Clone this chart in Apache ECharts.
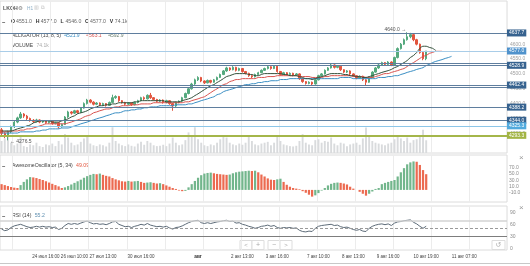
<!DOCTYPE html>
<html>
<head>
<meta charset="utf-8">
<script src="https://cdn.jsdelivr.net/npm/echarts@6/dist/echarts.min.js"></script>
<style>
html, body { margin: 0; padding: 0; background: #fff; }
#main { width: 530px; height: 266px; }
</style>
</head>
<body>
<div id="main"></div>
<script>
// LKOH H1 candles (open, close, low, high)
var opens = [4312,4300,4292,4305,4322,4338,4352,4365,4358,4350,4344,4340,4345,4338,4342,4336,4340,4333,4336,4322,
  4330,4355,4372,4368,4376,4370,4385,4400,4412,4405,4398,4402,4396,4400,4394,4404,4420,4424,4410,4404,
  4398,4402,4396,4404,4410,4420,4416,4428,4420,4414,4408,4412,4404,4410,4400,4392,4404,4408,4420,4434,
  4450,4466,4480,4488,4476,4470,4478,4472,4480,4488,4498,4510,4520,4514,4522,4512,4518,4508,4502,4494,
  4490,4498,4504,4512,4518,4524,4518,4526,4508,4498,4504,4498,4502,4496,4500,4484,4474,4468,4472,4466,
  4480,4494,4500,4512,4520,4530,4522,4526,4514,4506,4510,4500,4494,4486,4492,4480,4472,4488,4506,4520,
  4530,4538,4532,4540,4530,4555,4585,4600,4615,4625,4632,4615,4600,4572,4551];
var closes = [4300,4292,4305,4322,4338,4352,4365,4358,4350,4344,4340,4345,4338,4342,4336,4340,4333,4336,4322,4330,
  4355,4372,4368,4376,4370,4385,4400,4412,4405,4398,4402,4396,4400,4394,4404,4420,4424,4410,4404,4398,
  4402,4396,4404,4410,4420,4416,4428,4420,4414,4408,4412,4404,4410,4400,4392,4404,4408,4420,4434,4450,
  4466,4480,4488,4476,4470,4478,4472,4480,4488,4498,4510,4520,4514,4522,4512,4518,4508,4502,4494,4490,
  4498,4504,4512,4518,4524,4518,4526,4508,4498,4504,4498,4502,4496,4500,4484,4474,4468,4472,4466,4480,
  4494,4500,4512,4520,4530,4522,4526,4514,4506,4510,4500,4494,4486,4492,4480,4472,4488,4506,4520,4530,
  4538,4532,4540,4530,4555,4585,4600,4615,4625,4632,4615,4600,4572,4551,4577];
var lows = [4294,4284,4276.5,4301,4318,4334,4349,4352,4345,4339,4335,4337,4334,4335,4332,4333,4329,4330,4316,4319,
  4328,4352,4363,4365,4366,4368,4383,4397,4401,4394,4395,4392,4393,4390,4392,4402,4416,4406,4400,4394,
  4395,4392,4394,4401,4408,4412,4414,4416,4410,4404,4405,4400,4401,4396,4376,4389,4401,4405,4418,4431,
  4447,4463,4476,4472,4466,4468,4468,4470,4478,4486,4496,4507,4510,4512,4508,4509,4504,4498,4490,4486,
  4488,4496,4502,4510,4515,4514,4516,4504,4494,4496,4494,4495,4492,4493,4480,4470,4464,4465,4462,4464,
  4478,4491,4498,4510,4518,4518,4519,4510,4502,4503,4496,4490,4482,4484,4476,4462,4470,4486,4504,4517,
  4527,4528,4530,4526,4528,4552,4582,4597,4612,4620,4610,4596,4568,4546,4546];
var highs = [4318,4304,4309,4326,4342,4356,4372,4368,4362,4353,4348,4349,4347,4345,4344,4343,4342,4339,4338,4333,
  4358,4376,4375,4379,4379,4388,4404,4416,4415,4408,4405,4404,4403,4402,4407,4430,4428,4426,4412,4406,
  4405,4404,4407,4413,4423,4424,4431,4436,4422,4416,4415,4414,4413,4412,4402,4407,4411,4423,4437,4453,
  4470,4484,4492,4490,4478,4481,4480,4483,4491,4501,4513,4524,4522,4526,4524,4521,4520,4510,4504,4496,
  4501,4507,4515,4521,4527,4526,4529,4528,4510,4507,4506,4505,4504,4503,4502,4486,4476,4475,4474,4483,
  4497,4503,4515,4523,4534,4532,4529,4528,4516,4513,4512,4502,4496,4495,4494,4482,4491,4509,4523,4533,
  4541,4540,4543,4542,4558,4589,4604,4619,4640,4638,4635,4618,4602,4575,4577];
// volume, thousands
var volumes = [70,85,120,60,45,55,95,40,35,50,45,60,40,35,50,45,55,40,70,50,
  110,90,60,45,50,65,85,95,55,45,40,50,45,38,60,150,70,55,45,40,
  50,42,38,55,65,48,70,60,45,40,42,48,40,55,90,60,45,50,75,120,
  100,150,80,60,45,40,50,45,60,80,95,90,60,50,45,55,48,60,95,70,
  50,45,55,60,65,45,60,95,70,50,45,40,38,42,70,110,60,50,45,75,
  80,60,70,65,90,55,45,60,55,40,50,55,60,48,85,148,95,70,60,55,
  50,45,55,60,80,105,85,70,90,60,75,80,100,136,74.1];
// Awesome Oscillator (5, 34)
var aoValues = [18,15,12,9,7,6,15,25,33,40,39,37,34,31,27,23,19,15,11,6,
  8,12,17,22,27,32,38,43,47,50,49,51,47,44,42,37,33,30,27,26,
  28,26,27,28,25,22,23,24,22,20,21,18,14,10,6,3,-2,-4,-3,8,
  18,28,38,46,51,53,54,52,50,49,48,47,48,52,55,57,58,59,60,59,
  60,55,48,42,36,32,31,33,35,25,16,10,6,4,2,-4,-9,-15,-21,-17,
  -10,-2,6,14,19,22,23,22,20,17,10,4,0,-6,-12,-18,-12,-5,3,6,
  18,22,25,28,31,42,55,68,80,86,89,88,78,62,49.09];
// RSI (14)
var rsiValues = [48,44,46,52,56,58,60,57,54,52,53,55,53,55,53,54,52,53,47,50,
  57,62,60,62,60,63,66,68,64,61,62,60,61,59,62,66,67,60,57,54,
  55,52,55,57,60,58,62,58,56,54,55,53,55,51,48,52,53,56,60,64,
  67,69,70,64,62,64,62,64,66,67,69,70,67,68,63,64,60,58,55,53,
  50,52,55,56,58,55,57,52,50,52,51,52,50,51,45,42,41,43,42,50,
  55,57,58,59,60,57,58,54,52,53,50,47,45,47,43,42,50,55,58,60,
  61,59,61,57,63,66,67,69,70,71,65,61,55,50,55.2];
// Alligator lines as drawn (already shifted: jaw +8, teeth +5, lips +3)
var jaw = [4301,4301,4301,4301,4301,4301,4305,4305,4305,4305,4305,4308,4308,4311,4311,4315,4315,4315,4315,4318,
  4318,4318,4321,4325,4328,4332,4335,4338,4342,4345,4349,4352,4355,4359,4362,4366,4369,4369,4372,4376,
  4376,4379,4379,4382,4382,4386,4386,4389,4389,4389,4393,4393,4393,4393,4393,4396,4396,4396,4396,4399,
  4399,4403,4406,4410,4413,4416,4420,4423,4430,4433,4440,4444,4447,4450,4454,4457,4460,4464,4464,4467,
  4467,4471,4471,4474,4474,4477,4477,4477,4481,4481,4481,4484,4484,4484,4484,4484,4484,4484,4484,4484,
  4484,4484,4484,4484,4484,4484,4484,4488,4488,4488,4488,4484,4484,4484,4484,4484,4484,4484,4484,4488,
  4488,4488,4491,4491,4494,4494,4498,4501,4505,4508,4511,4515,4518,4521,4528,4532,4538,4542,4545,4548,
  4552,4555,4559];
var teeth = [4305,4305,4305,4308,4308,4308,4311,4311,4315,4315,4318,4321,4325,4328,4332,4332,4332,4332,4332,4332,
  4332,4335,4338,4342,4345,4349,4355,4359,4362,4369,4372,4376,4379,4382,4382,4386,4389,4389,4393,4393,
  4393,4396,4396,4396,4399,4399,4399,4399,4403,4403,4403,4403,4403,4403,4403,4403,4403,4403,4406,4406,
  4410,4413,4416,4420,4423,4430,4437,4444,4450,4457,4464,4467,4474,4477,4481,4481,4484,4484,4484,4484,
  4484,4488,4488,4488,4491,4491,4491,4494,4494,4494,4494,4494,4494,4494,4491,4491,4491,4491,4488,4488,
  4488,4488,4491,4491,4494,4494,4494,4494,4494,4494,4494,4491,4491,4491,4491,4488,4488,4488,4491,4494,
  4498,4501,4501,4505,4508,4511,4515,4518,4525,4532,4538,4545,4552,4559,4562,4569,4572,4576,4576,4576];
var lips = [4308,4308,4308,4308,4311,4315,4318,4321,4325,4328,4335,4338,4342,4342,4342,4342,4338,4338,4338,4342,
  4345,4349,4355,4359,4366,4369,4372,4376,4382,4386,4389,4393,4393,4396,4396,4399,4399,4403,4403,4403,
  4403,4403,4406,4406,4410,4410,4410,4410,4410,4410,4410,4410,4406,4406,4406,4406,4406,4410,4413,4416,
  4420,4427,4433,4440,4447,4454,4460,4464,4471,4477,4484,4491,4494,4498,4501,4501,4501,4501,4498,4498,
  4494,4494,4498,4501,4501,4501,4501,4501,4501,4498,4498,4494,4494,4494,4491,4488,4484,4484,4481,4484,
  4488,4491,4494,4498,4501,4501,4501,4501,4498,4498,4494,4494,4491,4491,4488,4488,4491,4494,4498,4501,
  4505,4508,4511,4515,4521,4525,4532,4538,4545,4555,4562,4572,4586,4593,4593,4589,4586,4579];

var timeTickIdx = [14, 23, 32, 44, 62, 76, 87, 100, 111, 122, 134, 146];
var timeTickText = ['24 июл 16:00', '26 июл 10:00', '27 июл 13:00', '30 июл 16:00', 'авг', '2 авг 13:00',
  '3 авг 16:00', '7 авг 10:00', '8 авг 13:00', '9 авг 16:00', '10 авг 19:00', '11 авг 07:00'];
var priceTicks = [4300, 4350, 4400, 4450, 4500, 4550, 4600];
var aoTicks = [-10, 10, 30, 50, 70];
var rsiTicks = [0, 30, 60, 90];

// last bar readout in the header
var ohlcKeys = ['O', 'H', 'L', 'C', 'V'];
var ohlcVals = ['4551.0', '4577.0', '4546.0', '4577.0', '74.1k'];

// horizontal price levels: value, line colour, tag colour (null = no tag)
var levels = [
  [4637.7, '#5f7e9e', '#36628f'],
  [4577.0, '#a9cde8', '#4f92cc'],
  [4537.4, '#5f7e9e', null],
  [4528.9, '#5f7e9e', '#36628f'],
  [4462.4, '#5f7e9e', '#36628f'],
  [4454.6, '#5f7e9e', null],
  [4388.2, '#5f7e9e', '#36628f'],
  [4344.0, '#5f7e9e', '#36628f'],
  [4325.3, '#8cc6e8', '#52aadd'],
  [4293.3, '#a4b64a', '#a2b444']
];

var SLOTS = 160;
var cats = [];
for (var i = 0; i < SLOTS; i++) cats.push(String(i));

var candles = opens.map(function (o, i) { return [o, closes[i], lows[i], highs[i]]; });
var up = '#55a97e', down = '#e2553e';
var aoData = aoValues.map(function (v, i) {
  var rising = i === 0 ? false : v > aoValues[i - 1];
  return { value: v, itemStyle: { color: rising ? '#72b68c' : '#ec6a50' } };
});

var FONT = 'Arial';
var vGrid = { show: true, interval: function (i) { return (i - 4) % 12 === 0; }, lineStyle: { color: '#ececec', width: 1 } };

function catAxis(grid, extra) {
  var a = {
    type: 'category', gridIndex: grid, data: cats, boundaryGap: true,
    axisLine: { show: false }, axisTick: { show: false }, axisLabel: { show: false },
    splitLine: vGrid
  };
  for (var k in extra) a[k] = extra[k];
  return a;
}

var headerItems = [];
ohlcKeys.forEach(function (k, n) {
  var x0 = 11 + n * 24.7;
  headerItems.push({ type: 'text', left: x0, top: 19.5, style: { text: k, font: 'bold 5.2px Arial', fill: '#333' } });
  headerItems.push({ type: 'text', left: x0 + 5, top: 19.5, style: { text: ohlcVals[n], font: '5.2px Arial', fill: '#666' } });
});

var myChart = echarts.init(document.getElementById('main'));
var option = {
  animation: false,
  backgroundColor: '#fff',
  grid: [
    { left: 0, right: 23, top: 1, height: 152, show: true, borderColor: '#dcdcdc', borderWidth: 1 },
    { left: 0, right: 23, top: 113, height: 40 },
    { left: 0, right: 23, top: 155, height: 47, show: true, borderColor: '#dcdcdc', borderWidth: 1 },
    { left: 0, right: 23, top: 206, height: 44, show: true, borderColor: '#dcdcdc', borderWidth: 1 }
  ],
  xAxis: [
    catAxis(0, {}),
    catAxis(1, { splitLine: { show: false } }),
    catAxis(2, {}),
    catAxis(3, {
      axisLabel: {
        show: true, fontSize: 4.5, fontFamily: FONT, color: '#444', margin: 4,
        interval: function (i) { return timeTickIdx.indexOf(i) >= 0; },
        formatter: function (v, i) {
          var t = timeTickText[timeTickIdx.indexOf(i)];
          return t === 'авг' ? '{b|авг}' : t;
        },
        rich: { b: { fontWeight: 'bold', fontSize: 4.8, fontFamily: FONT, color: '#333' } }
      }
    })
  ],
  yAxis: [
    {
      gridIndex: 0, position: 'right', min: 4233.9, max: 4745.2, scale: true,
      axisLine: { show: false }, axisTick: { show: false }, splitLine: { show: false },
      axisLabel: { fontSize: 5, fontFamily: FONT, color: '#a0a0a0', margin: 3, customValues: priceTicks,
        formatter: function (v) { return v.toFixed(1); } }
    },
    { gridIndex: 1, min: 0, max: 233, show: false },
    {
      gridIndex: 2, position: 'right', min: -37.8, max: 109.1,
      axisLine: { show: false }, axisTick: { show: false }, splitLine: { show: false },
      axisLabel: { fontSize: 5, fontFamily: FONT, color: '#8a8a8a', margin: 2, customValues: aoTicks,
        formatter: function (v) { return v.toFixed(1); } }
    },
    {
      gridIndex: 3, position: 'right', min: -4.25, max: 105.75,
      axisLine: { show: false }, axisTick: { show: false }, splitLine: { show: false },
      axisLabel: { fontSize: 5, fontFamily: FONT, color: '#8a8a8a', margin: 3, customValues: rsiTicks }
    }
  ],
  series: [
    {
      name: 'VOLUME', type: 'bar', xAxisIndex: 1, yAxisIndex: 1, data: volumes,
      barWidth: '60%', itemStyle: { color: '#d9dbdd' }, silent: true
    },
    {
      name: 'LKOH', type: 'candlestick', xAxisIndex: 0, yAxisIndex: 0, data: candles, barWidth: '62%',
      itemStyle: { color: up, color0: down, borderColor: up, borderColor0: down, borderWidth: 1 },
      markLine: {
        silent: true, symbol: 'none', animation: false,
        data: levels.map(function (l) {
          return {
            yAxis: l[0],
            lineStyle: { color: l[1], width: l[0] === 4293.3 ? 2 : 1, type: 'solid' },
            label: l[2] ? {
              position: 'end', distance: 0, formatter: l[0].toFixed(1), color: '#fff',
              backgroundColor: l[2], padding: [1, 2, 1, 2], fontSize: 5, fontFamily: FONT
            } : { show: false }
          };
        })
      },
      markPoint: {
        symbol: 'circle', symbolSize: 0, silent: true, animation: false,
        data: [
          { coord: [128, 4640.0], label: { show: true, position: 'left', distance: 1, formatter: '4640.0 →', color: '#555', fontSize: 5, fontFamily: FONT, offset: [0, -3] } },
          { coord: [2, 4276.5], label: { show: true, position: 'right', distance: 2, formatter: '← 4276.5', color: '#555', fontSize: 5, fontFamily: FONT, offset: [0, 1] } }
        ]
      }
    },
    { name: 'Jaw', type: 'line', xAxisIndex: 0, yAxisIndex: 0, data: jaw, symbol: 'none', smooth: 0.3, lineStyle: { color: '#3b8fc4', width: 1 } },
    { name: 'Teeth', type: 'line', xAxisIndex: 0, yAxisIndex: 0, data: teeth, symbol: 'none', smooth: 0.3, lineStyle: { color: '#d9534f', width: 1 } },
    { name: 'Lips', type: 'line', xAxisIndex: 0, yAxisIndex: 0, data: lips, symbol: 'none', smooth: 0.3, lineStyle: { color: '#33503b', width: 1 } },
    {
      name: 'AO', type: 'bar', xAxisIndex: 2, yAxisIndex: 2, data: aoData, barWidth: '70%'
    },
    {
      name: 'RSI', type: 'line', xAxisIndex: 3, yAxisIndex: 3, data: rsiValues, symbol: 'none',
      lineStyle: { color: '#5d6b78', width: 1 },
      markLine: {
        silent: true, symbol: 'none', animation: false, label: { show: false },
        data: [
          { yAxis: 70, lineStyle: { color: '#d3d3d3', width: 1.5, type: 'solid' } },
          { yAxis: 50, lineStyle: { color: '#9a9a9a', width: 1, type: [3, 2] } },
          { yAxis: 30, lineStyle: { color: '#7d7d7d', width: 1, type: 'solid' } }
        ]
      }
    }
  ],
  graphic: [
    { type: 'text', left: 3, top: 6, style: { text: 'LKOH', font: 'bold 5.2px Arial', fill: '#555' } },
    { type: 'text', left: 18, top: 5.5, style: { text: '⚙', font: '5.5px DejaVu Sans', fill: '#777' } },
    { type: 'text', left: 27, top: 6, style: { text: 'H1', font: '4.8px Arial', fill: '#8fb0c8' } },
    { type: 'text', left: 34, top: 5.5, style: { text: '▥', font: '5px DejaVu Sans', fill: '#bbb' } },
    { type: 'text', left: 41, top: 5.5, style: { text: '⧉', font: '5px DejaVu Sans', fill: '#bbb' } },
    { type: 'text', left: 2, top: 19, style: { text: '−', font: 'bold 5.8px Arial', fill: '#333' } }
  ].concat(headerItems).concat([
    {
      type: 'text', left: 12, top: 29.5,
      style: {
        text: '{n|ALLIGATOR (13, 8, 5)} {j|4521.9}  {t|4563.1}  {l|4592.9}',
        rich: {
          n: { font: '5px Arial', fill: '#444' },
          j: { font: '5px Arial', fill: '#3b8fc4' },
          t: { font: '5px Arial', fill: '#d9534f' },
          l: { font: '5px Arial', fill: '#6b7f6f' }
        }
      }
    },
    {
      type: 'text', left: 12, top: 39.5,
      style: {
        text: '{n|VOLUME} {v|74.1k}',
        rich: { n: { font: '5px Arial', fill: '#444' }, v: { font: '5px Arial', fill: '#aaa' } }
      }
    },
    {
      type: 'text', left: 2, top: 160,
      style: {
        text: '{d|−}  {n|AwesomeOscillator (5, 34)} {r|49.09}',
        rich: {
          d: { font: 'bold 5.8px Arial', fill: '#333' },
          n: { font: '5.2px Arial', fill: '#444' },
          r: { font: '5.2px Arial', fill: '#e2553e' }
        }
      }
    },
    {
      type: 'text', left: 2, top: 210,
      style: {
        text: '{d|−}  {n|RSI (14)} {r|55.2}',
        rich: {
          d: { font: 'bold 5.8px Arial', fill: '#333' },
          n: { font: '5.2px Arial', fill: '#444' },
          r: { font: '5.2px Arial', fill: '#5f8fb0' }
        }
      }
    },
    { type: 'text', left: 519, top: 154, style: { text: '×', font: '8px Arial', fill: '#999' } },
    { type: 'text', left: 519, top: 204, style: { text: '×', font: '8px Arial', fill: '#999' } },
    // navigation buttons
    { type: 'rect', shape: { x: 240, y: 240.5, width: 12, height: 9 }, style: { fill: '#fff', stroke: '#ddd' } },
    { type: 'rect', shape: { x: 252, y: 240.5, width: 12, height: 9 }, style: { fill: '#fff', stroke: '#ddd' } },
    { type: 'rect', shape: { x: 268, y: 240.5, width: 12, height: 9 }, style: { fill: '#fff', stroke: '#ddd' } },
    { type: 'rect', shape: { x: 280, y: 240.5, width: 12, height: 9 }, style: { fill: '#fff', stroke: '#ddd' } },
    { type: 'text', x: 246, y: 245, style: { text: '<', font: '6px Arial', fill: '#aaa', align: 'center', verticalAlign: 'middle' } },
    { type: 'text', x: 258, y: 245, style: { text: '+', font: '7px Arial', fill: '#aaa', align: 'center', verticalAlign: 'middle' } },
    { type: 'text', x: 274, y: 245, style: { text: '−', font: '7px Arial', fill: '#aaa', align: 'center', verticalAlign: 'middle' } },
    { type: 'text', x: 286, y: 245, style: { text: '>', font: '6px Arial', fill: '#aaa', align: 'center', verticalAlign: 'middle' } },
    { type: 'rect', shape: { x: 492, y: 240.5, width: 13, height: 9 }, style: { fill: '#fff', stroke: '#ddd' } },
    { type: 'text', x: 498.5, y: 245, style: { text: '↺', font: '7px DejaVu Sans', fill: '#aaa', align: 'center', verticalAlign: 'middle' } },
    { type: 'line', shape: { x1: 0, y1: 263.5, x2: 530, y2: 263.5 }, style: { stroke: '#c8c8c8', lineWidth: 1 } }
  ])
};
myChart.setOption(option);
</script>
</body>
</html>
